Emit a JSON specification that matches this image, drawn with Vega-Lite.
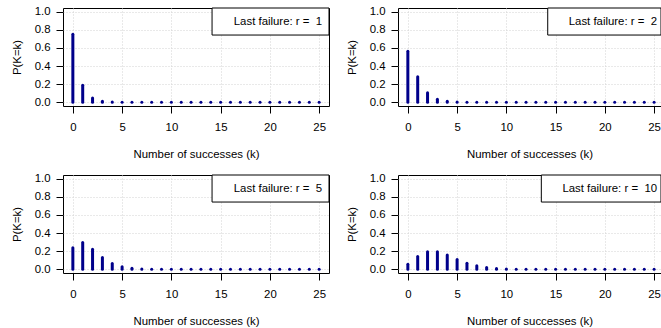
{
  "$schema": "https://vega.github.io/schema/vega-lite/v6.json",
  "padding": {"left": 10, "top": 5, "right": 0, "bottom": 0},
  "background": "white",
  "datasets": {
    "nb": [
      {"r":1,"k":0,"p":0.75},{"r":1,"k":1,"p":0.1875},{"r":1,"k":2,"p":0.0469},{"r":1,"k":3,"p":0.0117},{"r":1,"k":4,"p":0.0029},{"r":1,"k":5,"p":0.0007},{"r":1,"k":6,"p":0.0002},{"r":1,"k":7,"p":0},{"r":1,"k":8,"p":0},{"r":1,"k":9,"p":0},{"r":1,"k":10,"p":0},{"r":1,"k":11,"p":0},{"r":1,"k":12,"p":0},{"r":1,"k":13,"p":0},{"r":1,"k":14,"p":0},{"r":1,"k":15,"p":0},{"r":1,"k":16,"p":0},{"r":1,"k":17,"p":0},{"r":1,"k":18,"p":0},{"r":1,"k":19,"p":0},{"r":1,"k":20,"p":0},{"r":1,"k":21,"p":0},{"r":1,"k":22,"p":0},{"r":1,"k":23,"p":0},{"r":1,"k":24,"p":0},{"r":1,"k":25,"p":0},
      {"r":2,"k":0,"p":0.5625},{"r":2,"k":1,"p":0.2813},{"r":2,"k":2,"p":0.1055},{"r":2,"k":3,"p":0.0352},{"r":2,"k":4,"p":0.011},{"r":2,"k":5,"p":0.0033},{"r":2,"k":6,"p":0.001},{"r":2,"k":7,"p":0.0003},{"r":2,"k":8,"p":0.0001},{"r":2,"k":9,"p":0},{"r":2,"k":10,"p":0},{"r":2,"k":11,"p":0},{"r":2,"k":12,"p":0},{"r":2,"k":13,"p":0},{"r":2,"k":14,"p":0},{"r":2,"k":15,"p":0},{"r":2,"k":16,"p":0},{"r":2,"k":17,"p":0},{"r":2,"k":18,"p":0},{"r":2,"k":19,"p":0},{"r":2,"k":20,"p":0},{"r":2,"k":21,"p":0},{"r":2,"k":22,"p":0},{"r":2,"k":23,"p":0},{"r":2,"k":24,"p":0},{"r":2,"k":25,"p":0},
      {"r":5,"k":0,"p":0.2373},{"r":5,"k":1,"p":0.2966},{"r":5,"k":2,"p":0.2225},{"r":5,"k":3,"p":0.1298},{"r":5,"k":4,"p":0.0649},{"r":5,"k":5,"p":0.0292},{"r":5,"k":6,"p":0.0122},{"r":5,"k":7,"p":0.0048},{"r":5,"k":8,"p":0.0018},{"r":5,"k":9,"p":0.0007},{"r":5,"k":10,"p":0.0002},{"r":5,"k":11,"p":0.0001},{"r":5,"k":12,"p":0},{"r":5,"k":13,"p":0},{"r":5,"k":14,"p":0},{"r":5,"k":15,"p":0},{"r":5,"k":16,"p":0},{"r":5,"k":17,"p":0},{"r":5,"k":18,"p":0},{"r":5,"k":19,"p":0},{"r":5,"k":20,"p":0},{"r":5,"k":21,"p":0},{"r":5,"k":22,"p":0},{"r":5,"k":23,"p":0},{"r":5,"k":24,"p":0},{"r":5,"k":25,"p":0},
      {"r":10,"k":0,"p":0.0563},{"r":10,"k":1,"p":0.1408},{"r":10,"k":2,"p":0.1936},{"r":10,"k":3,"p":0.1936},{"r":10,"k":4,"p":0.1573},{"r":10,"k":5,"p":0.1101},{"r":10,"k":6,"p":0.0688},{"r":10,"k":7,"p":0.0393},{"r":10,"k":8,"p":0.0209},{"r":10,"k":9,"p":0.0104},{"r":10,"k":10,"p":0.005},{"r":10,"k":11,"p":0.0023},{"r":10,"k":12,"p":0.001},{"r":10,"k":13,"p":0.0004},{"r":10,"k":14,"p":0.0002},{"r":10,"k":15,"p":0.0001},{"r":10,"k":16,"p":0},{"r":10,"k":17,"p":0},{"r":10,"k":18,"p":0},{"r":10,"k":19,"p":0},{"r":10,"k":20,"p":0},{"r":10,"k":21,"p":0},{"r":10,"k":22,"p":0},{"r":10,"k":23,"p":0},{"r":10,"k":24,"p":0},{"r":10,"k":25,"p":0}
    ]
  },
  "columns": 2,
  "spacing": {"row": 69, "column": 69},
  "bounds": "flush",
  "concat": [
    {
      "width": 266, "height": 98,
      "layer": [
        {"data": {"name": "nb"}, "transform": [{"filter": "datum.r == 1"}],
         "mark": {"type": "rule", "color": "#00008B", "strokeWidth": 3, "strokeCap": "round"},
         "encoding": {
           "x": {"field": "k", "type": "quantitative", "scale": {"domain": [-1, 26], "nice": false, "zero": false}, "axis": {"values": [0,5,10,15,20,25], "tickCount": 12, "title": "Number of successes (k)"}},
           "y": {"field": "p", "type": "quantitative", "scale": {"domain": [-0.04, 1.04], "nice": false, "zero": false}, "axis": {"values": [0,0.2,0.4,0.6,0.8,1], "tickCount": 12, "format": ".1f", "title": "P(K=k)"}},
           "y2": {"datum": 0}}},
        {"data": {"values": [{}]}, "mark": {"type": "rect", "fill": "#ffffff", "stroke": "#000000", "strokeWidth": 1},
         "encoding": {"x": {"datum": 14.13}, "x2": {"datum": 26}, "y": {"datum": 1.04}, "y2": {"datum": 0.742}}},
        {"data": {"values": [{}]}, "mark": {"type": "text", "align": "right", "baseline": "middle", "fontSize": 11.4, "color": "#000000"},
         "encoding": {"x": {"datum": 25.3}, "y": {"datum": 0.885}, "text": {"value": "Last failure: r = \u00a01"}}}
      ]
    },
    {
      "width": 263, "height": 98,
      "layer": [
        {"data": {"name": "nb"}, "transform": [{"filter": "datum.r == 2"}],
         "mark": {"type": "rule", "color": "#00008B", "strokeWidth": 3, "strokeCap": "round"},
         "encoding": {
           "x": {"field": "k", "type": "quantitative", "scale": {"domain": [-1, 25.7], "nice": false, "zero": false}, "axis": {"values": [0,5,10,15,20,25], "tickCount": 12, "title": "Number of successes (k)"}},
           "y": {"field": "p", "type": "quantitative", "scale": {"domain": [-0.04, 1.04], "nice": false, "zero": false}, "axis": {"values": [0,0.2,0.4,0.6,0.8,1], "tickCount": 12, "format": ".1f", "title": "P(K=k)"}},
           "y2": {"datum": 0}}},
        {"data": {"values": [{}]}, "mark": {"type": "rect", "fill": "#ffffff", "stroke": "#000000", "strokeWidth": 1},
         "encoding": {"x": {"datum": 14.2}, "x2": {"datum": 25.7}, "y": {"datum": 1.04}, "y2": {"datum": 0.742}}},
        {"data": {"values": [{}]}, "mark": {"type": "text", "align": "right", "baseline": "middle", "fontSize": 11.4, "color": "#000000"},
         "encoding": {"x": {"datum": 25.3}, "y": {"datum": 0.885}, "text": {"value": "Last failure: r = \u00a02"}}}
      ]
    },
    {
      "width": 266, "height": 98,
      "layer": [
        {"data": {"name": "nb"}, "transform": [{"filter": "datum.r == 5"}],
         "mark": {"type": "rule", "color": "#00008B", "strokeWidth": 3, "strokeCap": "round"},
         "encoding": {
           "x": {"field": "k", "type": "quantitative", "scale": {"domain": [-1, 26], "nice": false, "zero": false}, "axis": {"values": [0,5,10,15,20,25], "tickCount": 12, "title": "Number of successes (k)"}},
           "y": {"field": "p", "type": "quantitative", "scale": {"domain": [-0.04, 1.04], "nice": false, "zero": false}, "axis": {"values": [0,0.2,0.4,0.6,0.8,1], "tickCount": 12, "format": ".1f", "title": "P(K=k)"}},
           "y2": {"datum": 0}}},
        {"data": {"values": [{}]}, "mark": {"type": "rect", "fill": "#ffffff", "stroke": "#000000", "strokeWidth": 1},
         "encoding": {"x": {"datum": 14.13}, "x2": {"datum": 26}, "y": {"datum": 1.04}, "y2": {"datum": 0.742}}},
        {"data": {"values": [{}]}, "mark": {"type": "text", "align": "right", "baseline": "middle", "fontSize": 11.4, "color": "#000000"},
         "encoding": {"x": {"datum": 25.3}, "y": {"datum": 0.885}, "text": {"value": "Last failure: r = \u00a05"}}}
      ]
    },
    {
      "width": 263, "height": 98,
      "layer": [
        {"data": {"name": "nb"}, "transform": [{"filter": "datum.r == 10"}],
         "mark": {"type": "rule", "color": "#00008B", "strokeWidth": 3, "strokeCap": "round"},
         "encoding": {
           "x": {"field": "k", "type": "quantitative", "scale": {"domain": [-1, 25.7], "nice": false, "zero": false}, "axis": {"values": [0,5,10,15,20,25], "tickCount": 12, "title": "Number of successes (k)"}},
           "y": {"field": "p", "type": "quantitative", "scale": {"domain": [-0.04, 1.04], "nice": false, "zero": false}, "axis": {"values": [0,0.2,0.4,0.6,0.8,1], "tickCount": 12, "format": ".1f", "title": "P(K=k)"}},
           "y2": {"datum": 0}}},
        {"data": {"values": [{}]}, "mark": {"type": "rect", "fill": "#ffffff", "stroke": "#000000", "strokeWidth": 1},
         "encoding": {"x": {"datum": 13.55}, "x2": {"datum": 25.7}, "y": {"datum": 1.04}, "y2": {"datum": 0.742}}},
        {"data": {"values": [{}]}, "mark": {"type": "text", "align": "right", "baseline": "middle", "fontSize": 11.4, "color": "#000000"},
         "encoding": {"x": {"datum": 25.3}, "y": {"datum": 0.885}, "text": {"value": "Last failure: r = \u00a010"}}}
      ]
    }
  ],
  "config": {
    "font": "Liberation Sans",
    "view": {"stroke": "#000000", "strokeWidth": 1},
    "axis": {"domain": false, "grid": true, "gridColor": "#d3d3d3", "gridDash": [1, 2], "gridWidth": 1, "ticks": true, "tickColor": "#000000", "tickSize": 7, "labelFontSize": 11.4, "labelColor": "#000000", "titleFontSize": 11.4, "titleFontWeight": "normal", "titleColor": "#000000", "labelFont": "Liberation Sans", "titleFont": "Liberation Sans", "labelFlush": false, "labelOverlap": false},
    "axisX": {"labelPadding": 8, "titlePadding": 16, "labelAngle": 0},
    "axisY": {"labelPadding": 6, "titlePadding": 12}
  }
}
